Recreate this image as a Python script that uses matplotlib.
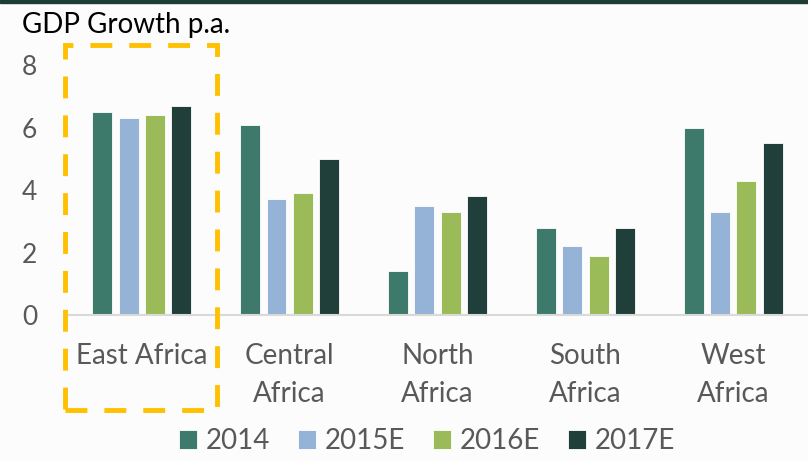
import numpy as np
import matplotlib.pyplot as plt
from matplotlib.patches import Rectangle

# Datos
regiones = ['East Africa', 'Central\nAfrica', 'North\nAfrica', 'South\nAfrica', 'West\nAfrica']
series = ['2014', '2015E', '2016E', '2017E']
v2014 = [6.5, 6.1, 1.4, 2.8, 6.0]
v2015 = [6.3, 3.7, 3.5, 2.2, 3.3]
v2016 = [6.4, 3.9, 3.3, 1.9, 4.3]
v2017 = [6.7, 5.0, 3.8, 2.8, 5.5]
colores = ['#3D7A6C', '#95B3D7', '#9BBB59', '#213F3A']

plt.rcParams['font.family'] = ['Lato', 'DejaVu Sans']

fig = plt.figure(figsize=(8.08, 4.62), dpi=100)
fig.patch.set_facecolor('#FCFCFC')
ax = fig.add_axes([0.084, 0.318, 0.915, 0.541])
ax.set_facecolor('#FCFCFC')

x = np.arange(len(regiones))
paso = 0.178
ancho = 0.135
valores = [v2014, v2015, v2016, v2017]
for i, (nombre, vals) in enumerate(zip(series, valores)):
    ax.bar(x + (i - 1.5) * paso, vals, ancho, color=colores[i], label=nombre,
           edgecolor='white', linewidth=0.6)

ax.set_xlim(-0.5, 4.5)
ax.set_ylim(0, 8)
ax.set_yticks([0, 2, 4, 6, 8])
ax.set_xticks(x)
ax.set_xticklabels(regiones, fontsize=20, color='#595959', linespacing=1.56)
ax.tick_params(axis='y', length=0, pad=22, labelsize=19, labelcolor='#595959')
ax.tick_params(axis='x', length=0, pad=20)
for s in ['top', 'right', 'left']:
    ax.spines[s].set_visible(False)
ax.spines['bottom'].set_color('#D9D9D9')
ax.spines['bottom'].set_linewidth(1.5)

# Recuadro destacado
rect = Rectangle((-0.52, -3.04), 1.03, 11.68, fill=False, edgecolor='#FFC000',
                 linewidth=3.5, linestyle=(0, (4.5, 3.5)), clip_on=False, zorder=5)
ax.add_patch(rect)

# Linea superior
fig.add_artist(Rectangle((0, 0.993), 1, 0.007, transform=fig.transFigure,
                         color='#1F3B35', zorder=10))

fig.text(22 / 808, 1 - 25 / 462, 'GDP Growth p.a.', fontsize=20, color='black', va='center')

fig.legend(loc='center', bbox_to_anchor=(427 / 808, 1 - 441 / 462), ncol=4, frameon=False,
           fontsize=20, labelcolor='#595959', handlelength=0.65, handleheight=0.65,
           columnspacing=1.0, handletextpad=0.32)

fig.savefig('out.png', dpi=100, facecolor=fig.get_facecolor())
